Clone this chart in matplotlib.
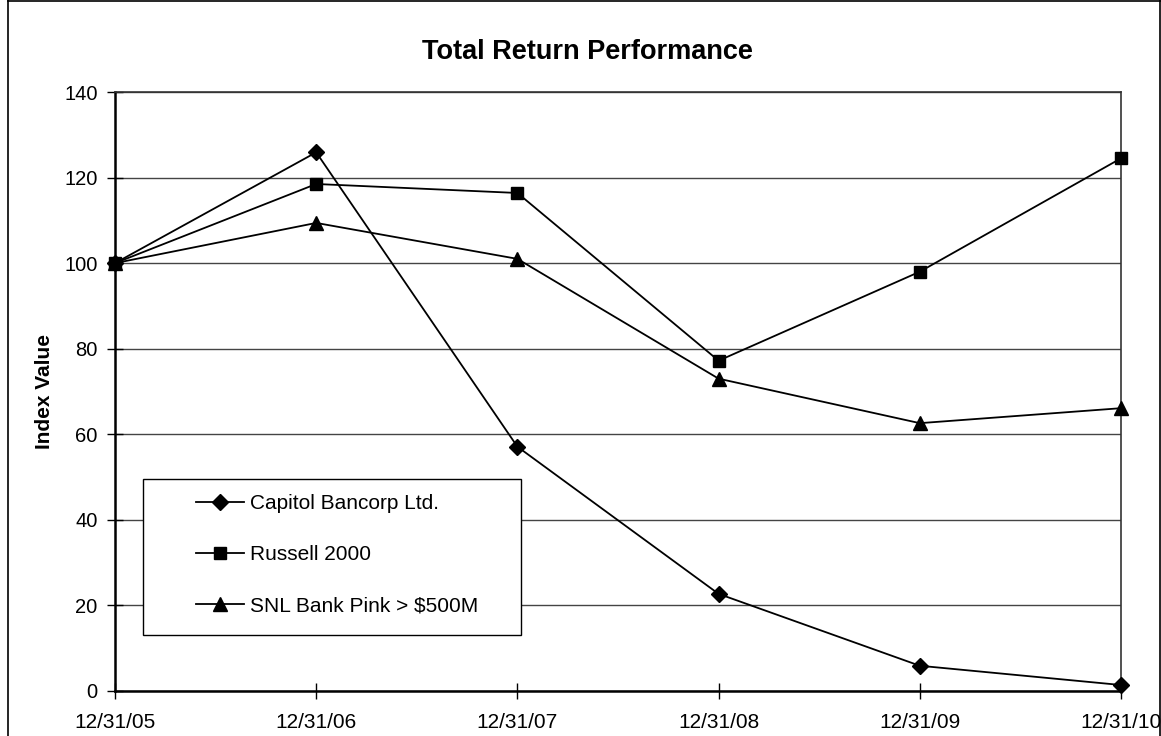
import matplotlib
matplotlib.use("Agg")
import matplotlib.pyplot as plt
from matplotlib.patches import Rectangle
from matplotlib.lines import Line2D

dates = ["12/31/05", "12/31/06", "12/31/07", "12/31/08", "12/31/09", "12/31/10"]
capitol = [100.0, 125.9, 57.1, 22.7, 5.9, 1.4]
russell = [100.0, 118.5, 116.4, 77.2, 98.0, 124.5]
snl = [100.0, 109.4, 101.0, 73.0, 62.6, 66.1]
series_names = ["Capitol Bancorp Ltd.", "Russell 2000", "SNL Bank Pink > $500M"]

plt.rcParams['font.family'] = ['Liberation Sans', 'DejaVu Sans']

W, H = 1161, 736
fig = plt.figure(figsize=(W / 100, H / 100), dpi=100)
ax = fig.add_axes([115 / W, (H - 691) / H, (1121 - 115) / W, (691 - 92) / H])

x = list(range(len(dates)))
ax.plot(x, capitol, color='black', lw=1.3, marker='D', ms=8, label=series_names[0], clip_on=False, zorder=3)
ax.plot(x, russell, color='black', lw=1.3, marker='s', ms=8.5, label=series_names[1], clip_on=False, zorder=3)
ax.plot(x, snl, color='black', lw=1.3, marker='^', ms=10, label=series_names[2], clip_on=False, zorder=3)

ax.set_xlim(0, len(dates) - 1)
ax.set_ylim(0, 140)
ax.set_yticks(range(0, 141, 20))
ax.set_xticks(x)
ax.set_xticklabels(dates, fontsize=15)
ax.tick_params(axis='y', labelsize=14.5, direction='inout', length=11, width=1, pad=7)
ax.tick_params(axis='x', direction='inout', length=11, width=1, pad=10)
ax.yaxis.grid(True, color='#444444', lw=1.0)
ax.set_axisbelow(True)

for s in ['left', 'bottom']:
    ax.spines[s].set_linewidth(1.8)
for s in ['top', 'right']:
    ax.spines[s].set_linewidth(1.2)
    ax.spines[s].set_color('#333333')

ax.set_ylabel("Index Value", fontsize=15, fontweight='bold')
ax.yaxis.set_label_coords((54 - 115) / (1121 - 115), 0.5)

fig.text(587 / W, 1 - 52 / H, "Total Return Performance", ha='center', va='center',
         fontsize=19.5, fontweight='bold')

# legend frame (drawn separately so that its placement matches)
box = Rectangle((143 / W, (H - 635) / H), (521 - 143) / W, (635 - 479) / H,
                transform=fig.transFigure, facecolor='white', edgecolor='black', lw=1.0, zorder=2.5)
ax.add_artist(box)
box.set_clip_on(False)

leg = ax.legend(loc='upper left', bbox_to_anchor=(196 / W, 1 - 494 / H), bbox_transform=fig.transFigure,
                fontsize=15, frameon=False, borderpad=0, borderaxespad=0,
                labelspacing=1.55, handlelength=2.3, handletextpad=0.3)
leg.set_zorder(5)

# outer frame
for (xs, ys) in [((8, 8), (0, H)), ((8, W), (1, 1)), ((W - 1, W - 1), (0, H))]:
    fig.add_artist(Line2D([v / W for v in xs], [1 - v / H for v in ys], transform=fig.transFigure,
                          color='black', lw=1.2))

fig.savefig("out.png", dpi=100)
